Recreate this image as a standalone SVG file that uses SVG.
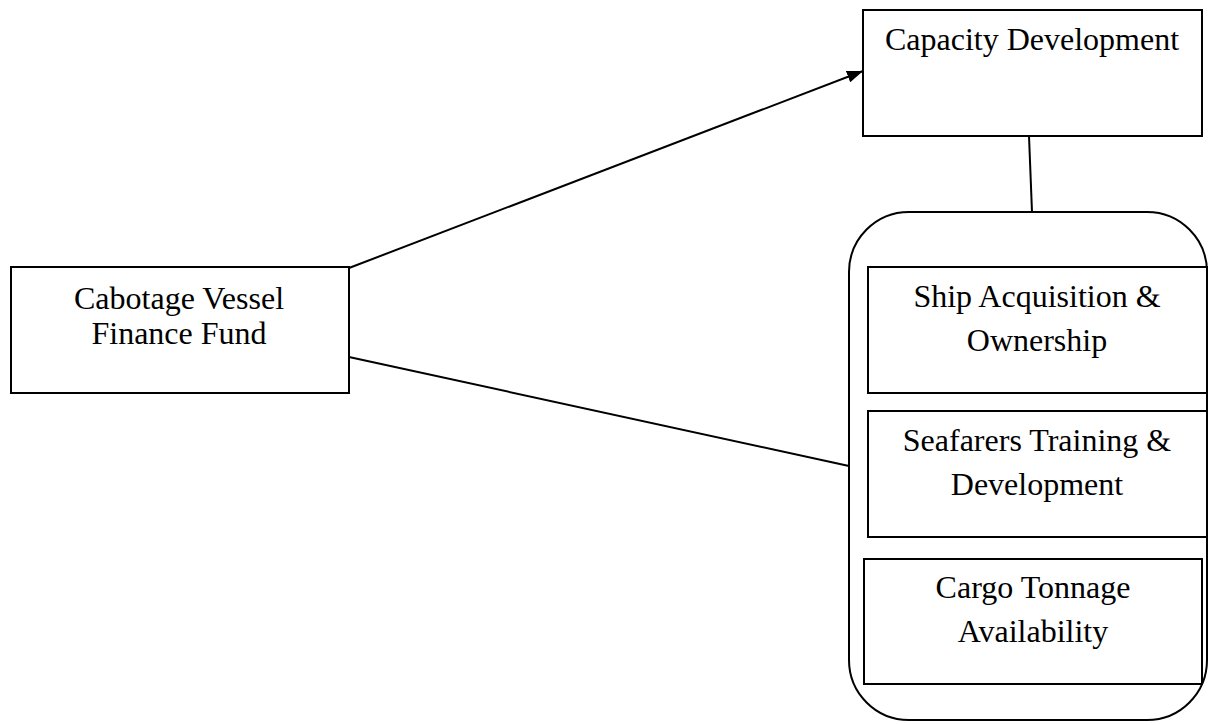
<svg xmlns="http://www.w3.org/2000/svg" width="1210" height="725" viewBox="0 0 1210 725">
<style>
.box{fill:#fff;stroke:#000;stroke-width:2}
.lbl{font-family:"Liberation Serif","Times New Roman",serif;font-size:32px;fill:#000;text-anchor:middle}
.conn{stroke:#000;stroke-width:2;fill:none}
</style>
<defs>
<marker id="arr" markerWidth="16" markerHeight="12" refX="16" refY="6" orient="auto" markerUnits="userSpaceOnUse" viewBox="0 0 16 12">
<path d="M0,0 L16,6 L0,12 z" fill="#000"/>
</marker>
</defs>
<rect width="1210" height="725" fill="#fff"/>
<g id="container">
<rect class="box" x="849" y="212" width="358" height="508" rx="60" ry="60"/>
</g>
<g id="capacity">
<rect class="box" x="863" y="10" width="339" height="126"/>
<text class="lbl" x="1032" y="50">Capacity Development</text>
</g>
<g id="fund">
<rect class="box" x="11" y="267" width="338" height="126"/>
<text class="lbl" x="179" y="309">Cabotage Vessel</text>
<text class="lbl" x="179" y="344">Finance Fund</text>
</g>
<g id="ship">
<rect class="box" x="868" y="267" width="339" height="126"/>
<text class="lbl" x="1037" y="307">Ship Acquisition &amp;</text>
<text class="lbl" x="1037" y="351">Ownership</text>
</g>
<g id="seafarers">
<rect class="box" x="868" y="411" width="339" height="126"/>
<text class="lbl" x="1037" y="451">Seafarers Training &amp;</text>
<text class="lbl" x="1037" y="495">Development</text>
</g>
<g id="cargo">
<rect class="box" x="864" y="559" width="338" height="125"/>
<text class="lbl" x="1033" y="598">Cargo Tonnage</text>
<text class="lbl" x="1033" y="642">Availability</text>
</g>
<g id="connectors">
<line class="conn" x1="349" y1="268" x2="863" y2="71" marker-end="url(#arr)"/>
<line class="conn" x1="349" y1="357" x2="849" y2="466"/>
<line class="conn" x1="1029" y1="136" x2="1032" y2="212"/>
</g>
</svg>
